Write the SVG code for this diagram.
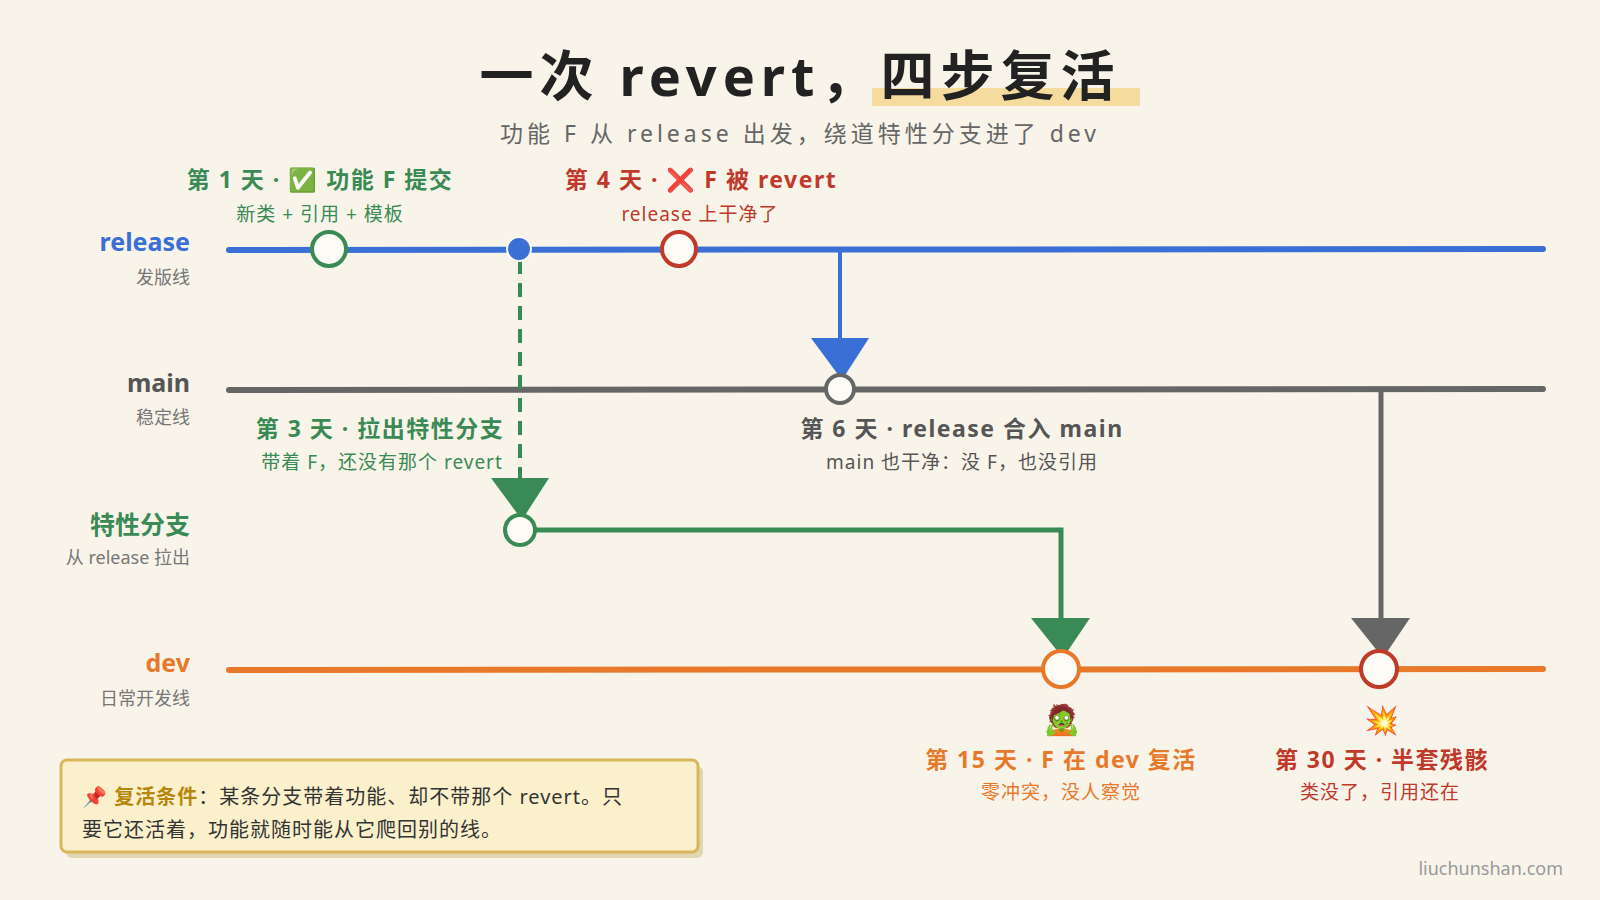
<svg xmlns="http://www.w3.org/2000/svg" width="1600" height="900" viewBox="0 0 1600 900">
<style>
text{font-family:"Noto Sans","Noto Sans CJK SC",sans-serif}
.lbl{font-size:25px;font-weight:bold;text-anchor:end}
.sub{font-size:18px;fill:#777;text-anchor:end}
.t{font-size:23px;font-weight:bold;text-anchor:middle;letter-spacing:1.5px}
.s{font-size:19px;text-anchor:middle;letter-spacing:1px}
.node{fill:#fdfbf5;stroke-width:4}
</style>
<rect width="1600" height="900" fill="#f8f4ea"/>
<g id="title">
<rect x="872" y="88" width="268" height="18" fill="#f6d690" opacity="0.85"/>
<text x="800" y="96" font-size="54" font-weight="bold" text-anchor="middle" fill="#222" letter-spacing="6">一次 revert，四步复活</text>
<text x="800" y="142" font-size="23" text-anchor="middle" fill="#666" letter-spacing="4">功能 F 从 release 出发，绕道特性分支进了 dev</text>
</g>
<g id="lanes">
<text class="lbl" x="190" y="251" fill="#3a6fd6">release</text><text class="sub" x="190" y="284">发版线</text>
<text class="lbl" x="190" y="392" fill="#555">main</text><text class="sub" x="190" y="424">稳定线</text>
<text class="lbl" x="190" y="534" fill="#3a8a55" font-size="30">特性分支</text><text class="sub" x="190" y="564">从 release 拉出</text>
<text class="lbl" x="190" y="672" fill="#e8792a">dev</text><text class="sub" x="190" y="705">日常开发线</text>
</g>
<g id="connectors" fill="none">
<path d="M229 250 L1543 249" stroke="#3a6fd6" stroke-width="6" stroke-linecap="round"/>
<path d="M229 390 L1543 389" stroke="#666" stroke-width="6" stroke-linecap="round"/>
<path d="M229 670 L1543 669" stroke="#e8792a" stroke-width="6" stroke-linecap="round"/>
<path d="M840 252 V340" stroke="#3a6fd6" stroke-width="4"/>
<polygon points="811,338 869,338 842,380" fill="#3a6fd6"/>
<path d="M520 260 V480" stroke="#3a8a55" stroke-width="4" stroke-dasharray="14,9"/>
<polygon points="491,478 549,478 522,520" fill="#3a8a55"/>
<path d="M532 530 H1061 V620" stroke="#3a8a55" stroke-width="5"/>
<polygon points="1031,618 1090,618 1063,658" fill="#3a8a55"/>
<path d="M1381 392 V620" stroke="#666" stroke-width="5"/>
<polygon points="1351,618 1410,618 1383,658" fill="#666"/>
</g>
<g id="n-day1"><circle class="node" cx="329" cy="249" r="17" stroke="#3a8a55"/>
<text class="t" x="320" y="188" fill="#3a8a55">第 1 天 · ✅ 功能 F 提交</text><text class="s" x="320" y="221" fill="#3a8a55">新类 + 引用 + 模板</text></g>
<g id="n-branch"><circle cx="519" cy="249" r="12" fill="#3a6fd6" stroke="#fdfbf5" stroke-width="2"/></g>
<g id="n-day4"><circle class="node" cx="679" cy="249" r="17" stroke="#c0392b"/>
<text class="t" x="701" y="188" fill="#c0392b">第 4 天 · ❌ F 被 revert</text><text class="s" x="700" y="221" fill="#c0392b">release 上干净了</text></g>
<g id="n-day3"><circle class="node" cx="520" cy="530" r="15" stroke="#3a8a55"/>
<text class="t" x="380" y="437" fill="#3a8a55">第 3 天 · 拉出特性分支</text><text class="s" x="382" y="469" fill="#3a8a55">带着 F，还没有那个 revert</text></g>
<g id="n-day6"><circle class="node" cx="840" cy="389" r="14" stroke="#666"/>
<text class="t" x="962" y="437" fill="#555" font-size="22">第 6 天 · release 合入 main</text><text class="s" x="962" y="469" fill="#555">main 也干净：没 F，也没引用</text></g>
<g id="n-day15"><circle class="node" cx="1061" cy="669" r="18" stroke="#e8792a"/>
<text x="1061" y="730" font-size="30" text-anchor="middle">🧟</text>
<text class="t" x="1061" y="768" fill="#e8792a">第 15 天 · F 在 dev 复活</text><text class="s" x="1061" y="799" fill="#e8792a">零冲突，没人察觉</text></g>
<g id="n-day30"><circle class="node" cx="1379" cy="669" r="18" stroke="#c0392b"/>
<text x="1381" y="730" font-size="28" text-anchor="middle">💥</text>
<text class="t" x="1382" y="768" fill="#c0392b">第 30 天 · 半套残骸</text><text class="s" x="1380" y="799" fill="#c0392b">类没了，引用还在</text></g>
<g id="note">
<rect x="63" y="762" width="637" height="92" rx="6" fill="#cbb67a" opacity="0.5" transform="translate(3,4)"/>
<rect x="61" y="760" width="637" height="92" rx="6" fill="#faf0cc" stroke="#d9b65a" stroke-width="3"/>
<text x="82" y="804" font-size="20" fill="#333" letter-spacing="1">📌 <tspan fill="#b8860b" font-weight="bold">复活条件</tspan>：某条分支带着功能、却不带那个 revert。只</text>
<text x="82" y="837" font-size="20" fill="#333" letter-spacing="1">要它还活着，功能就随时能从它爬回别的线。</text>
</g>
<text x="1563" y="875" font-size="18" fill="#999" text-anchor="end">liuchunshan.com</text>
</svg>
